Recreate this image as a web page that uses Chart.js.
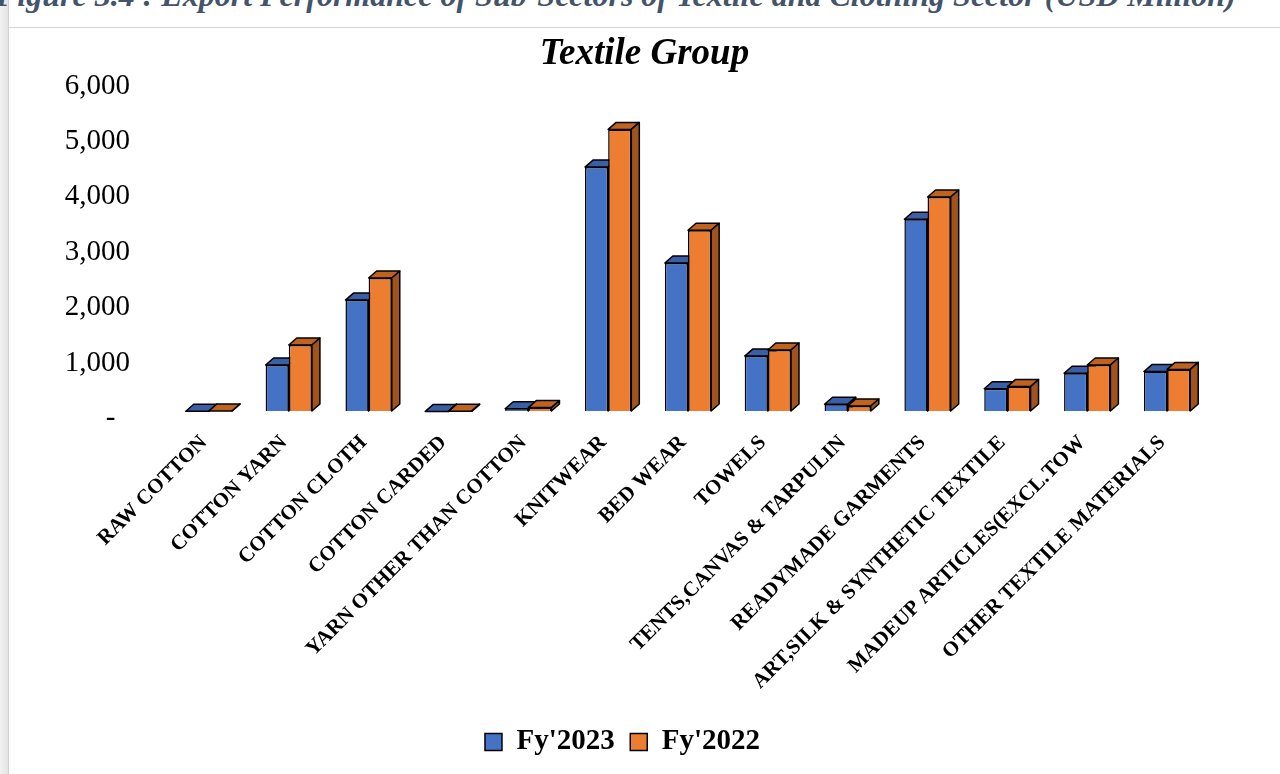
<!DOCTYPE html>
<html>
<head>
<meta charset="utf-8">
<script src="https://cdn.jsdelivr.net/npm/chart.js@4.4.1/dist/chart.umd.min.js"></script>
<style>
  html, body { margin: 0; padding: 0; background: #ffffff; overflow: hidden; }
  body { width: 1280px; height: 774px; position: relative; }
  #strip { position: absolute; left: 0; top: 0; width: 8px; height: 774px;
           background: linear-gradient(to right, #f2f2f2, #e4e4e4); border-right: 1px solid #d2d2d2; }
  #caption { position: absolute; left: -4px; top: -21px; white-space: nowrap;
             font: italic bold 32px 'Liberation Serif', serif; line-height: 32px; color: #44546A; }
  #frame { position: absolute; left: 9px; top: 27px; width: 1271px; height: 747px;
           border-top: 1px solid #d4d4d4; box-sizing: border-box; }
  #wrap { position: absolute; left: 9px; top: 28px; width: 1271px; height: 746px; }
</style>
</head>
<body>
<div id="strip"></div>
<div id="caption">Figure 3.4 : Export Performance of Sub-Sectors of Textile and Clothing Sector (USD Million)</div>
<div id="frame"></div>
<div id="wrap"><canvas id="chart" width="1271" height="746"></canvas></div>
<script>
// Sub-sector export values, USD million
const categories = [
  'RAW COTTON', 'COTTON YARN', 'COTTON CLOTH', 'COTTON CARDED',
  'YARN OTHER THAN COTTON', 'KNITWEAR', 'BED WEAR', 'TOWELS',
  'TENTS,CANVAS & TARPULIN', 'READYMADE GARMENTS',
  'ART,SILK & SYNTHETIC TEXTILE', 'MADEUP ARTICLES(EXCL.TOW',
  'OTHER TEXTILE MATERIALS'
];
const fy2023 = [5, 840, 2010, 2, 50, 4410, 2680, 1000, 130, 3470, 410, 690, 720];
const fy2022 = [8, 1200, 2410, 3, 70, 5090, 3270, 1110, 100, 3870, 450, 840, 760];
const seriesNames = ["Fy'2023", "Fy'2022"];
const yTicks = [0, 1000, 2000, 3000, 4000, 5000, 6000];

const SERIF = "'Liberation Serif', 'Times New Roman', serif";

// Face colours for the extruded look: front, top, side
const faces = [
  { front: '#4472C4', top: '#3A5FA6', side: '#2F4F8C' },
  { front: '#ED7D31', top: '#C0631F', side: '#A0531D' }
];
const DEPTH_X = 8, DEPTH_Y = 7;

// Draws the top and right-side faces behind each bar's front face
const extrude = {
  id: 'extrude',
  beforeDatasetsDraw(chart) {
    const ctx = chart.ctx;
    ctx.save();
    ctx.lineWidth = 1.5;
    ctx.strokeStyle = '#000000';
    ctx.lineJoin = 'round';
    chart.data.datasets.forEach((ds, di) => {
      const meta = chart.getDatasetMeta(di);
      const c = faces[di];
      meta.data.forEach(el => {
        const { x, y, base, width } = el.getProps(['x', 'y', 'base', 'width'], true);
        const l = x - width / 2, r = x + width / 2;
        // top face
        ctx.beginPath();
        ctx.moveTo(l, y);
        ctx.lineTo(l + DEPTH_X, y - DEPTH_Y);
        ctx.lineTo(r + DEPTH_X, y - DEPTH_Y);
        ctx.lineTo(r, y);
        ctx.closePath();
        ctx.fillStyle = c.top;
        ctx.fill();
        ctx.stroke();
        // side face
        ctx.beginPath();
        ctx.moveTo(r, y);
        ctx.lineTo(r + DEPTH_X, y - DEPTH_Y);
        ctx.lineTo(r + DEPTH_X, base - DEPTH_Y);
        ctx.lineTo(r, base);
        ctx.closePath();
        ctx.fillStyle = c.side;
        ctx.fill();
        ctx.stroke();
      });
    });
    ctx.restore();
  }
};

// Centres the title on the page and sets the legend row slightly left of it
const blockShift = {
  id: 'blockShift',
  afterLayout(chart) {
    if (chart.titleBlock) {
      chart.titleBlock.left += 36.5;
      chart.titleBlock.right += 36.5;
    }
    if (chart.legend) {
      chart.legend.left += 14.5;
      chart.legend.right += 14.5;
    }
  }
};

new Chart(document.getElementById('chart'), {
  type: 'bar',
  data: {
    labels: categories,
    datasets: [
      { label: seriesNames[0], data: fy2023, backgroundColor: faces[0].front,
        borderColor: '#000000', borderWidth: 1.5 },
      { label: seriesNames[1], data: fy2022, backgroundColor: faces[1].front,
        borderColor: '#000000', borderWidth: 1.5 }
    ]
  },
  options: {
    responsive: false,
    animation: false,
    events: [],
    datasets: { bar: { barPercentage: 1.0, categoryPercentage: 0.58 } },
    layout: { padding: { left: 0, right: 73, top: 0, bottom: 7.5 } },
    plugins: {
      title: {
        display: true,
        text: 'Textile Group',
        color: '#000000',
        font: { family: SERIF, size: 37, weight: 'bold', style: 'italic' },
        padding: { top: 4, bottom: 2.6 }
      },
      legend: {
        display: true,
        position: 'bottom',
        labels: {
          color: '#000000',
          boxWidth: 17,
          boxHeight: 17,
          padding: 15.5,
          font: { family: SERIF, size: 29, weight: 'bold' }
        }
      },
      tooltip: { enabled: false }
    },
    scales: {
      x: {
        grid: { display: false, drawTicks: false },
        border: { display: false },
        ticks: {
          color: '#000000',
          font: { family: SERIF, size: 21, weight: 'bold' },
          maxRotation: 45,
          minRotation: 45,
          autoSkip: false,
          padding: 19,
          labelOffset: -5
        },
        afterFit(scale) { scale.height = 300.5; }
      },
      y: {
        min: 0,
        max: 6000,
        afterBuildTicks(scale) { scale.ticks = yTicks.map(v => ({ value: v })); },
        // invisible tick marks hold the gap between labels and bars
        grid: { display: true, drawOnChartArea: false, drawTicks: true, tickLength: 39, color: 'rgba(0,0,0,0)' },
        border: { display: false },
        ticks: {
          color: '#000000',
          font: { family: SERIF, size: 29 },
          padding: 0,
          labelOffset: 7,
          callback: v => v === 0 ? '-  ' : v.toLocaleString('en-US')
        },
        afterFit(scale) { scale.width = 160; }
      }
    }
  },
  plugins: [extrude, blockShift]
});
</script>
</body>
</html>
